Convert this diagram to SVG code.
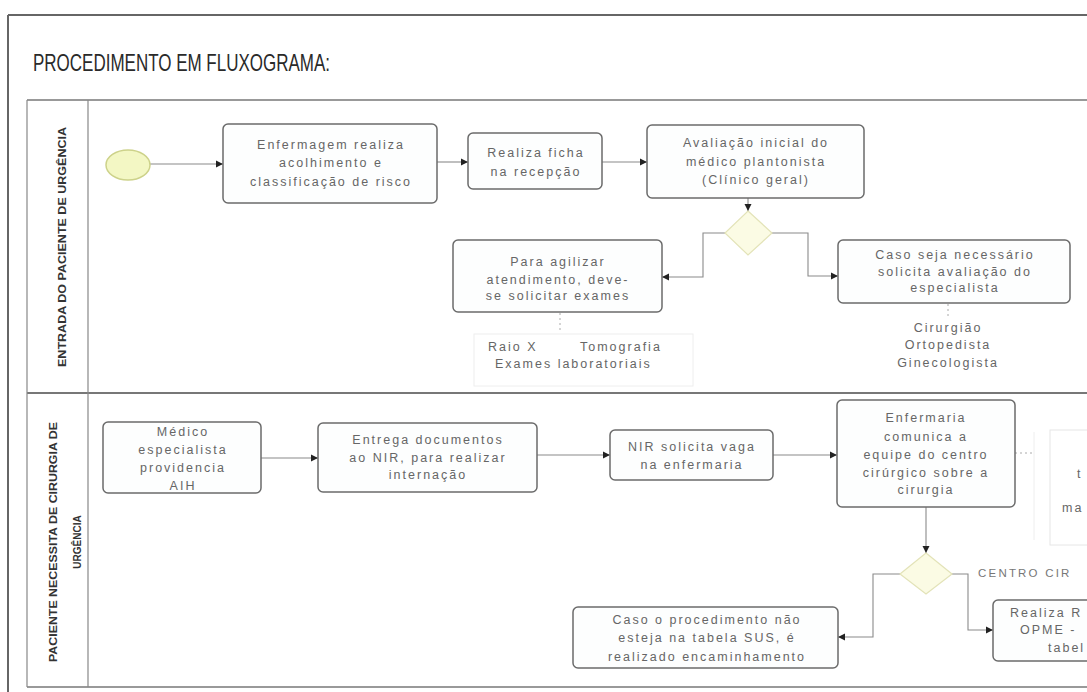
<svg xmlns="http://www.w3.org/2000/svg" width="1087" height="692" viewBox="0 0 1087 692">
<defs>
<marker id="arr" markerWidth="8" markerHeight="8" refX="7" refY="4" orient="auto" markerUnits="userSpaceOnUse">
<path d="M0,0.5 L7,4 L0,7.5 Z" fill="#222"/>
</marker>
<style>
.box{fill:#fdfefe;stroke:#6b6b6b;stroke-width:1.5}
.t{font-family:"Liberation Sans",Arial,sans-serif;font-size:12.5px;letter-spacing:2px;fill:#666;text-anchor:middle}
.note{font-family:"Liberation Sans",Arial,sans-serif;font-size:12.5px;letter-spacing:2px;fill:#666}
.lane{font-family:"Liberation Sans",Arial,sans-serif;font-size:10px;font-weight:bold;fill:#333;text-anchor:middle}
.c{fill:none;stroke:#8a8a8a;stroke-width:1.1}
.gw{fill:#fbfbe4;stroke:#e3e3b8;stroke-width:1.2}
.dot{fill:none;stroke:#aaa;stroke-width:1;stroke-dasharray:2 3}
</style>
</defs>
<rect width="1087" height="692" fill="#ffffff"/>

<!-- outer frame -->
<g id="frame">
<line x1="8" y1="15" x2="1087" y2="15" stroke="#666" stroke-width="2.2"/>
<line x1="8" y1="15" x2="8" y2="692" stroke="#666" stroke-width="2"/>
<text x="33" y="71" font-family="'Liberation Sans',Arial,sans-serif" font-size="24" fill="#2a2a2a" textLength="297" lengthAdjust="spacingAndGlyphs">PROCEDIMENTO EM FLUXOGRAMA:</text>
</g>

<!-- pool and lanes -->
<g id="pool">
<line x1="27" y1="100" x2="1087" y2="100" stroke="#777" stroke-width="1.6"/>
<line x1="27" y1="393" x2="1087" y2="393" stroke="#777" stroke-width="1.8"/>
<line x1="27" y1="687" x2="1087" y2="687" stroke="#777" stroke-width="1.4"/>
<line x1="27" y1="100" x2="27" y2="687" stroke="#888" stroke-width="1.2"/>
<line x1="88" y1="100" x2="88" y2="687" stroke="#888" stroke-width="1.2"/>
</g>
<g id="lane1-label">
<text class="lane" transform="translate(66,247) rotate(-90)" textLength="240" lengthAdjust="spacingAndGlyphs">ENTRADA DO PACIENTE DE URGÊNCIA</text>
</g>
<g id="lane2-label">
<text class="lane" transform="translate(57,542) rotate(-90)" textLength="240" lengthAdjust="spacingAndGlyphs">PACIENTE NECESSITA DE CIRURGIA DE</text>
<text class="lane" transform="translate(81,542) rotate(-90)">URGÊNCIA</text>
</g>

<!-- connectors -->
<g id="connectors">
<line class="c" x1="150" y1="164" x2="223" y2="164" marker-end="url(#arr)"/>
<line class="c" x1="437" y1="162" x2="468" y2="162" marker-end="url(#arr)"/>
<line class="c" x1="602" y1="162" x2="647" y2="162" marker-end="url(#arr)"/>
<line class="c" x1="748" y1="198" x2="748" y2="211" marker-end="url(#arr)"/>
<polyline class="c" points="725,233 703,233 703,277 662,277" marker-end="url(#arr)"/>
<polyline class="c" points="772,233 808,233 808,276 838,276" marker-end="url(#arr)"/>
<line class="dot" x1="560" y1="313" x2="560" y2="333"/>
<line class="dot" x1="948" y1="304" x2="948" y2="318"/>
<line class="c" x1="261" y1="458" x2="318" y2="458" marker-end="url(#arr)"/>
<line class="c" x1="537" y1="455" x2="610" y2="455" marker-end="url(#arr)"/>
<line class="c" x1="773" y1="455" x2="837" y2="455" marker-end="url(#arr)"/>
<line class="dot" x1="1015" y1="453" x2="1034" y2="453"/>
<line class="c" x1="926" y1="507" x2="926" y2="553" marker-end="url(#arr)" stroke="#555"/>
<polyline class="c" points="900,574 873,574 873,637 838,637" marker-end="url(#arr)"/>
<polyline class="c" points="952,574 968,574 968,630 993,630" marker-end="url(#arr)"/>
</g>

<!-- lane 1 nodes -->
<g id="start">
<ellipse cx="128" cy="165" rx="22" ry="15" fill="#f3f7c4" stroke="#cdd28a" stroke-width="1.5"/>
</g>
<g id="acolhimento">
<rect class="box" x="223" y="124" width="214" height="79" rx="5"/>
<text class="t" x="331" y="149">Enfermagem realiza</text>
<text class="t" x="331" y="167">acolhimento e</text>
<text class="t" x="331" y="186">classificação de risco</text>
</g>
<g id="ficha">
<rect class="box" x="468" y="133" width="134" height="56" rx="5"/>
<text class="t" x="536" y="157">Realiza ficha</text>
<text class="t" x="536" y="176">na recepção</text>
</g>
<g id="avaliacao">
<rect class="box" x="647" y="125" width="217" height="73" rx="5"/>
<text class="t" x="756" y="147">Avaliação inicial do</text>
<text class="t" x="756" y="166">médico plantonista</text>
<text class="t" x="756" y="184">(Clínico geral)</text>
</g>
<g id="gateway1">
<polygon class="gw" points="748,211 772,233 748,255 725,233"/>
</g>
<g id="exames">
<rect class="box" x="453" y="240" width="209" height="72" rx="5"/>
<text class="t" x="558" y="266">Para agilizar</text>
<text class="t" x="558" y="284">atendimento, deve-</text>
<text class="t" x="558" y="300">se solicitar exames</text>
</g>
<g id="exames-nota">
<rect x="474" y="334" width="219" height="52" fill="none" stroke="#eee" stroke-width="1"/>
<text class="note" x="488" y="351">Raio X</text>
<text class="note" x="580" y="351">Tomografia</text>
<text class="note" x="495" y="368">Exames laboratoriais</text>
</g>
<g id="especialista">
<rect class="box" x="838" y="240" width="232" height="63" rx="5"/>
<text class="t" x="955" y="259">Caso seja necessário</text>
<text class="t" x="955" y="276">solicita avaliação do</text>
<text class="t" x="955" y="292">especialista</text>
</g>
<g id="especialista-nota">
<text class="t" x="948" y="332">Cirurgião</text>
<text class="t" x="948" y="349">Ortopedista</text>
<text class="t" x="948" y="367">Ginecologista</text>
</g>

<!-- lane 2 nodes -->
<g id="aih">
<rect class="box" x="103" y="422" width="158" height="71" rx="5"/>
<text class="t" x="183" y="436">Médico</text>
<text class="t" x="183" y="454">especialista</text>
<text class="t" x="183" y="472">providencia</text>
<text class="t" x="183" y="490">AIH</text>
</g>
<g id="entrega">
<rect class="box" x="318" y="423" width="219" height="69" rx="5"/>
<text class="t" x="428" y="444">Entrega documentos</text>
<text class="t" x="428" y="462">ao NIR, para realizar</text>
<text class="t" x="428" y="479">internação</text>
</g>
<g id="nir">
<rect class="box" x="610" y="430" width="163" height="50" rx="5"/>
<text class="t" x="692" y="451">NIR solicita vaga</text>
<text class="t" x="692" y="469">na enfermaria</text>
</g>
<g id="enfermaria">
<rect class="box" x="837" y="400" width="178" height="107" rx="5"/>
<text class="t" x="926" y="422">Enfermaria</text>
<text class="t" x="926" y="441">comunica a</text>
<text class="t" x="926" y="459">equipe do centro</text>
<text class="t" x="926" y="477">cirúrgico sobre a</text>
<text class="t" x="926" y="494">cirurgia</text>
</g>
<g id="enfermaria-nota">
<rect x="1050" y="430" width="60" height="115" fill="none" stroke="#e6e6e6" stroke-width="1"/>
<line x1="1034" y1="432" x2="1034" y2="540" stroke="#eee" stroke-width="1"/>
<text class="note" x="1077" y="478">t</text>
<text class="note" x="1062" y="512" letter-spacing="1">ma</text>
</g>
<g id="centro-label">
<text x="978" y="577" font-family="'Liberation Sans',Arial,sans-serif" font-size="11.5" fill="#777" letter-spacing="2.2">CENTRO CIR</text>
</g>
<g id="gateway2">
<polygon class="gw" points="926,553 952,574 926,594 900,574"/>
</g>
<g id="encaminhamento">
<rect class="box" x="573" y="607" width="265" height="61" rx="5"/>
<text class="t" x="707" y="624">Caso o procedimento não</text>
<text class="t" x="707" y="642">esteja na tabela SUS, é</text>
<text class="t" x="707" y="661">realizado encaminhamento</text>
</g>
<g id="opme">
<rect class="box" x="993" y="600" width="120" height="61" rx="5"/>
<text class="note" x="1010" y="617" letter-spacing="1.5">Realiza R</text>
<text class="note" x="1020" y="634" letter-spacing="1.5">OPME -</text>
<text class="note" x="1048" y="652" letter-spacing="1">tabel</text>
</g>
</svg>
